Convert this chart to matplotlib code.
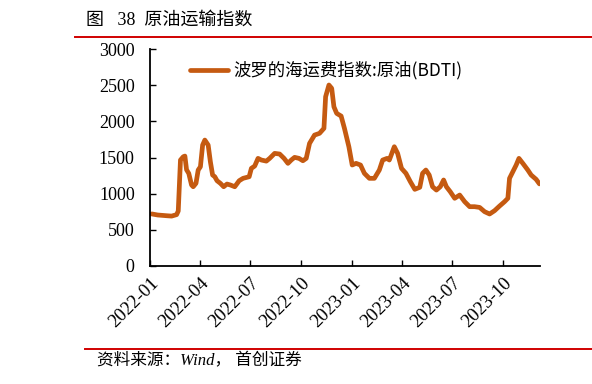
import matplotlib
matplotlib.use("Agg")
import matplotlib.pyplot as plt
from matplotlib.lines import Line2D
import pandas as pd

plt.rcParams['font.family'] = ['Liberation Serif', 'Noto Sans CJK SC', 'DejaVu Sans']

title = "图   38  原油运输指数"
series_name = "波罗的海运费指数:原油(BDTI)"
source = "资料来源：Wind， 首创证券"

dates = [
    "2022-01-04", "2022-01-15", "2022-01-31", "2022-02-09", "2022-02-18", "2022-02-21",
    "2022-02-25", "2022-03-02", "2022-03-05", "2022-03-08", "2022-03-12", "2022-03-17",
    "2022-03-20", "2022-03-25", "2022-03-29", "2022-04-02", "2022-04-06", "2022-04-10",
    "2022-04-16", "2022-04-20", "2022-04-24", "2022-04-28", "2022-05-02", "2022-05-08",
    "2022-05-14", "2022-05-20", "2022-05-26", "2022-06-03", "2022-06-11", "2022-06-18",
    "2022-06-29", "2022-07-03", "2022-07-09", "2022-07-15", "2022-07-21", "2022-07-30",
    "2022-08-05", "2022-08-14", "2022-08-23", "2022-08-31", "2022-09-07", "2022-09-13",
    "2022-09-19", "2022-09-27", "2022-10-04", "2022-10-10", "2022-10-16", "2022-10-25",
    "2022-11-03", "2022-11-11", "2022-11-14", "2022-11-20", "2022-11-25", "2022-11-29",
    "2022-12-04", "2022-12-12", "2022-12-18", "2022-12-26", "2023-01-01", "2023-01-08",
    "2023-01-16", "2023-01-23", "2023-02-01", "2023-02-10", "2023-02-19", "2023-02-25",
    "2023-03-05", "2023-03-09", "2023-03-18", "2023-03-24", "2023-03-31", "2023-04-08",
    "2023-04-16", "2023-04-24", "2023-05-03", "2023-05-08", "2023-05-14", "2023-05-20",
    "2023-05-26", "2023-06-02", "2023-06-09", "2023-06-15", "2023-06-20", "2023-06-27",
    "2023-07-05", "2023-07-14", "2023-07-23", "2023-08-01", "2023-08-10", "2023-08-19",
    "2023-08-28", "2023-09-06", "2023-09-15", "2023-09-24", "2023-10-03", "2023-10-09",
    "2023-10-12", "2023-10-18", "2023-10-24", "2023-10-29", "2023-11-05", "2023-11-14",
    "2023-11-20", "2023-11-29", "2023-12-05",
]
values = [
    720, 705, 695, 690, 710, 760,
    1465, 1510, 1520, 1330, 1280, 1120,
    1096, 1143, 1327, 1372, 1672, 1741,
    1672, 1441, 1258, 1234, 1179, 1143,
    1096, 1133, 1120, 1096, 1179, 1212,
    1234, 1350, 1382, 1488, 1465, 1450,
    1488, 1557, 1548, 1488, 1419, 1465,
    1502, 1488, 1455, 1488, 1695, 1810,
    1834, 1903, 2340, 2502, 2456, 2201,
    2110, 2073, 1903, 1649, 1396, 1419,
    1396, 1281, 1212, 1212, 1327, 1465,
    1488, 1465, 1649, 1557, 1350, 1281,
    1165, 1060, 1088, 1281, 1327, 1258,
    1096, 1050, 1096, 1189, 1096, 1027,
    936, 981, 889, 820, 820, 810,
    751, 719, 765, 829, 889, 936,
    1212, 1304, 1396, 1488, 1419, 1327,
    1258, 1198, 1135,
]
tick_labels = ["2022-01", "2022-04", "2022-07", "2022-10",
               "2023-01", "2023-04", "2023-07", "2023-10"]
y_ticks = [0, 500, 1000, 1500, 2000, 2500, 3000]

x = pd.to_datetime(dates)
line_color = "#C55A11"

fig = plt.figure(figsize=(5.92, 3.84), dpi=100)
ax = fig.add_axes([150/592, 1-266/384, 390/592, 217/384])

ax.plot(x, values, color=line_color, lw=3.4, solid_capstyle='round',
        solid_joinstyle='round', label=series_name)

ax.set_ylim(0, 3000)
ax.set_yticks(y_ticks)
ax.set_yticklabels([str(v) for v in y_ticks], fontsize=13)
tick_pos = pd.to_datetime([t + "-01" for t in tick_labels])
ax.set_xticks(tick_pos)
ax.set_xticklabels(tick_labels, rotation=45, ha='right', va='top',
                   rotation_mode='anchor', fontsize=13.5)
ax.set_xlim(pd.Timestamp("2022-01-01"), pd.Timestamp("2023-12-06"))

for s in ['top', 'right']:
    ax.spines[s].set_visible(False)
for s in ['left', 'bottom']:
    ax.spines[s].set_linewidth(1.3)
    ax.spines[s].set_color('black')
ax.tick_params(axis='both', direction='in', length=4, width=1.0, color='black')
ax.tick_params(axis='y', pad=11)
ax.tick_params(axis='x', pad=6)

leg = ax.legend(loc='upper left', bbox_to_anchor=(0.062, 1.015), frameon=False,
                handlelength=2.2, handletextpad=0.3,
                prop={'family': ['Noto Sans CJK SC', 'DejaVu Sans'], 'size': 12.5})

fig.text(86/592, 1-20/384, title, fontsize=13, va='center', ha='left',
         family=['Liberation Serif', 'Noto Sans CJK SC'])
fig.add_artist(Line2D([75/592, 1.0], [1-37/384, 1-37/384], color='#D00000', lw=1.4))
fig.add_artist(Line2D([85/592, 1.0], [1-349/384, 1-349/384], color='#D00000', lw=1.4))
fig.text(97/592, 1-361/384, source, fontsize=12, va='center', ha='left',
         style='italic', family=['Liberation Serif', 'Noto Sans CJK SC'])

fig.savefig("out.png", dpi=100)
